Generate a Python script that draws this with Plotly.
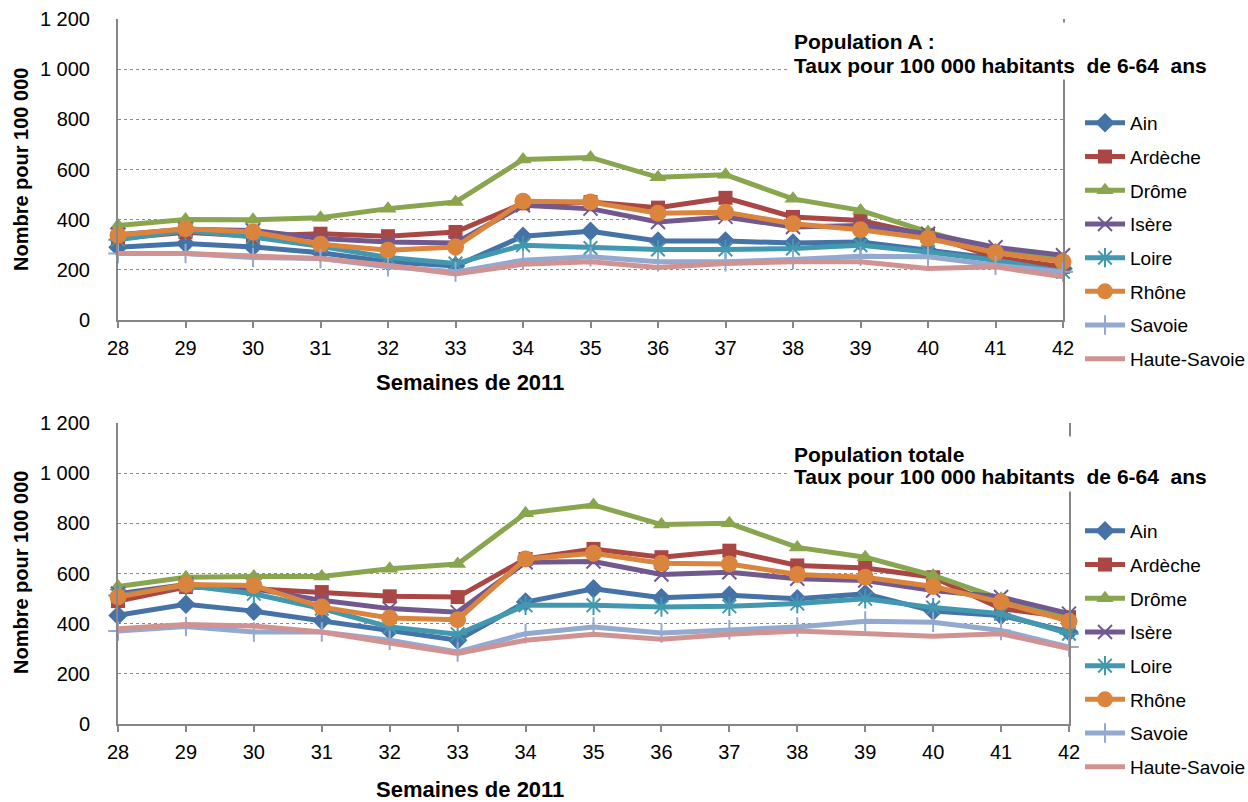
import plotly.graph_objects as go

# Semaines de 2011
weeks = [28, 29, 30, 31, 32, 33, 34, 35, 36, 37, 38, 39, 40, 41, 42]
departements = ["Ain", "Ardèche", "Drôme", "Isère", "Loire", "Rhône", "Savoie", "Haute-Savoie"]

# Population A : taux pour 100 000 habitants de 6-64 ans
popA_ain = [290, 305, 291, 268, 232, 215, 334, 354, 315, 315, 307, 311, 278, 245, 205]
popA_ardeche = [325, 350, 335, 344, 334, 351, 465, 470, 448, 487, 411, 397, 338, 250, 212]
popA_drome = [377, 401, 400, 408, 444, 470, 640, 648, 569, 579, 483, 437, 351, 278, 241]
popA_isere = [340, 362, 357, 325, 311, 307, 457, 444, 391, 411, 371, 377, 344, 290, 258]
popA_loire = [320, 357, 331, 294, 249, 225, 298, 287, 281, 281, 285, 298, 271, 238, 192]
popA_rhone = [338, 364, 351, 302, 278, 291, 473, 470, 426, 430, 384, 360, 325, 268, 232]
popA_savoie = [265, 265, 249, 245, 212, 192, 238, 252, 232, 232, 241, 254, 252, 218, 192]
popA_hsavoie = [265, 265, 255, 245, 218, 183, 222, 232, 209, 225, 232, 232, 205, 212, 172]

# Population totale : taux pour 100 000 habitants de 6-64 ans
popT_ain = [433, 477, 450, 413, 373, 334, 486, 539, 503, 513, 499, 519, 450, 433, 367]
popT_ardeche = [490, 546, 539, 526, 509, 506, 658, 698, 665, 691, 632, 622, 585, 460, 426]
popT_drome = [548, 585, 588, 588, 619, 638, 840, 873, 795, 800, 704, 665, 592, 499, 426]
popT_isere = [519, 556, 539, 493, 460, 446, 645, 648, 596, 605, 579, 572, 532, 506, 440]
popT_loire = [512, 552, 519, 460, 387, 358, 473, 473, 466, 469, 480, 499, 464, 440, 360]
popT_rhone = [506, 556, 552, 466, 423, 416, 658, 681, 641, 638, 596, 585, 548, 486, 410]
popT_savoie = [371, 389, 367, 367, 334, 287, 360, 387, 363, 376, 387, 410, 406, 373, 307]
popT_hsavoie = [380, 397, 391, 367, 323, 281, 334, 358, 338, 358, 371, 363, 350, 360, 301]

popA = [popA_ain, popA_ardeche, popA_drome, popA_isere, popA_loire, popA_rhone, popA_savoie, popA_hsavoie]
popT = [popT_ain, popT_ardeche, popT_drome, popT_isere, popT_loire, popT_rhone, popT_savoie, popT_hsavoie]

colors = ["#4572A7", "#AA4643", "#89A54E", "#71588F", "#4198AF", "#DB843D", "#93A9CF", "#D19392"]
symbols = ["diamond", "square", "triangle-up", "x-thin-open", "asterisk-open", "circle", "cross-thin-open", None]
msizes = [15, 14, 15, 14, 16, 17, 14, 0]

W, H = 1248, 802
FONT = "Liberation Sans, Arial, sans-serif"
AXIS_GREY = "#868686"


def px_x(v):
    return v / W


def px_y(v):
    return 1 - v / H


fig = go.Figure()

for data, xa, ya, leg, prefix in [
    (popA, "x", "y", "legend", "A"),
    (popT, "x2", "y2", "legend2", "T"),
]:
    for name, vals, col, sym, ms in zip(departements, data, colors, symbols, msizes):
        marker = dict(color=col, size=ms)
        if sym is not None:
            marker["symbol"] = sym
            if sym.endswith("-open"):
                marker["line"] = dict(color=col, width=2)
        fig.add_trace(go.Scatter(
            x=weeks, y=vals, name=name,
            mode="lines+markers" if sym is not None else "lines",
            line=dict(color=col, width=5),
            marker=marker,
            xaxis=xa, yaxis=ya, legend=leg,
            legendgroup=f"{prefix}-{name}",
            cliponaxis=False,
        ))

xcommon = dict(
    range=[28, 42], tickmode="array", tickvals=weeks,
    ticks="outside", ticklen=6, tickwidth=2, tickcolor=AXIS_GREY,
    showline=True, linecolor=AXIS_GREY, linewidth=2,
    showgrid=False, zeroline=False,
    tickfont=dict(size=20, color="black", family=FONT),
    ticklabelstandoff=3,
)
ycommon = dict(
    range=[0, 1200], dtick=200, tick0=0, tickformat=",d",
    showgrid=True, griddash="dot", gridcolor="#8c8c8c", gridwidth=1,
    showline=True, mirror=True, linecolor=AXIS_GREY, linewidth=2,
    zeroline=False, ticks="",
    tickfont=dict(size=20, color="black", family=FONT),
    ticklabelstandoff=22,
)

legcommon = dict(
    font=dict(size=19, color="black", family=FONT),
    bgcolor="rgba(0,0,0,0)", tracegroupgap=6,
    xanchor="left", yanchor="top", itemwidth=40,
)

fig.update_layout(
    width=W, height=H, autosize=False,
    margin=dict(l=0, r=0, t=0, b=0, autoexpand=False),
    paper_bgcolor="white", plot_bgcolor="white",
    separators=", ",
    font=dict(family=FONT, color="black"),
    xaxis=dict(domain=[px_x(118), px_x(1063)], anchor="y", **xcommon),
    yaxis=dict(domain=[px_y(320), px_y(19)], anchor="x", **ycommon),
    xaxis2=dict(domain=[px_x(118), px_x(1069)], anchor="y2", **xcommon),
    yaxis2=dict(domain=[px_y(724), px_y(423)], anchor="x2", **ycommon),
    legend=dict(x=px_x(1080), y=px_y(104), **legcommon),
    legend2=dict(x=px_x(1080), y=px_y(512), **legcommon),
    showlegend=True,
)

# Titres des graphiques, posés sur un cartouche blanc qui interrompt le cadre
titles = [
    ("Population A :", 42, 66, 22, 78),
    ("Population totale", 454, 476, 436, 490),
]
for head, y1, y2, box_top, box_bottom in titles:
    fig.add_annotation(
        text=" ", xref="paper", yref="paper",
        x=px_x(788), y=px_y(box_top), xanchor="left", yanchor="top",
        width=432, height=box_bottom - box_top, showarrow=False,
        bgcolor="white", borderpad=0,
    )
    for txt, yc in [(head, y1), ("Taux pour 100 000 habitants  de 6-64  ans", y2)]:
        fig.add_annotation(
            text=f"<b>{txt}</b>", xref="paper", yref="paper",
            x=px_x(792), y=px_y(yc), xanchor="left", yanchor="middle",
            align="left", showarrow=False,
            font=dict(size=21, color="black", family=FONT),
        )

# Titres des axes
for ycenter, xtitle_y in [(170, 383), (573, 789)]:
    fig.add_annotation(
        text="<b>Nombre pour 100 000</b>", xref="paper", yref="paper",
        x=px_x(21), y=px_y(ycenter), xanchor="center", yanchor="middle",
        textangle=-90, showarrow=False,
        font=dict(size=20, color="black", family=FONT),
    )
    fig.add_annotation(
        text="<b>Semaines de 2011</b>", xref="paper", yref="paper",
        x=px_x(470), y=px_y(xtitle_y), xanchor="center", yanchor="middle",
        showarrow=False,
        font=dict(size=22, color="black", family=FONT),
    )

fig.write_html("out.html", post_script="document.body.style.margin='0';")
